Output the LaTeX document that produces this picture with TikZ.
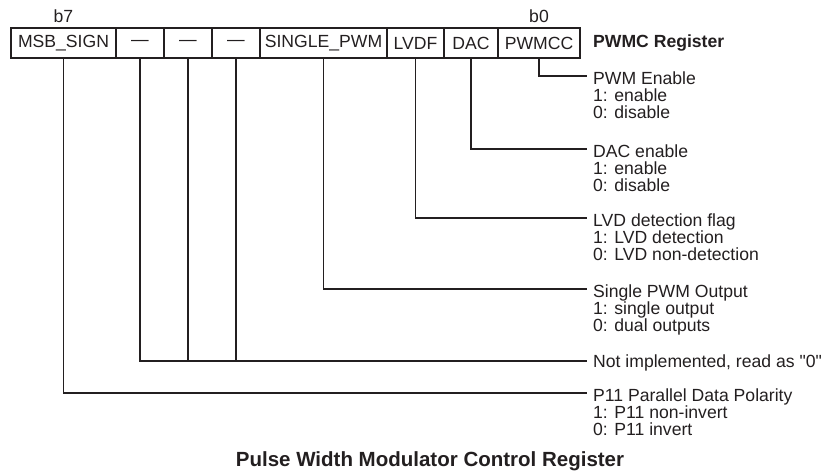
\documentclass[tikz,border=0pt]{standalone}
\usepackage{fontspec}
\setmainfont{Liberation Sans}
\usetikzlibrary{positioning}
\definecolor{regink}{HTML}{231F20}
\tikzset{
    reg_cell/.style={
        rectangle, draw=regink, line width=1.3pt, inner sep=0pt, outer sep=0pt,
        minimum height=30pt, text=regink, font=\fontsize{17.6}{17.2}\selectfont
    },
    bit_line/.style={
        draw=regink, line width=1.3pt
    },
    desc_text/.style={
        anchor=north west, inner sep=0pt, align=left, text=regink,
        font=\fontsize{17.6}{17.2}\selectfont
    },
    bit_lbl/.style={
        inner sep=0pt, text=regink, font=\fontsize{17.6}{17.2}\selectfont
    },
    head_text/.style={
        inner sep=0pt, text=regink, font=\fontsize{17.6}{17.2}\selectfont\bfseries
    }
}

\begin{document}
\begin{tikzpicture}[x=1pt, y=-1pt]
    \useasboundingbox (0,0) rectangle (822,474);

    % register cells
    \node[reg_cell, minimum width=105pt, anchor=west] (cMSB) at (11,43) {MSB\_SIGN};
    \node[reg_cell, minimum width=48pt, right=0pt of cMSB] (cNa) {—};
    \node[reg_cell, minimum width=48pt, right=0pt of cNa] (cNb) {—};
    \node[reg_cell, minimum width=48pt, right=0pt of cNb] (cNc) {—};
    \node[reg_cell, minimum width=127pt, right=0pt of cNc] (cSPWM) {SINGLE\_PWM};
    \node[reg_cell, minimum width=57pt, right=0pt of cSPWM] (cLVDF) {LVDF};
    \node[reg_cell, minimum width=54pt, right=0pt of cLVDF] (cDAC) {DAC};
    \node[reg_cell, minimum width=82pt, right=0pt of cDAC] (cPWMCC) {PWMCC};

    \node[bit_lbl, above=5pt of cMSB] (b7) {b7};
    \node[bit_lbl, above=5pt of cPWMCC] (b0) {b0};
    \node[head_text, right=13pt of cPWMCC] (regname) {PWMC Register};

    % line ends
    \coordinate (ePWMCC) at (587,76);
    \coordinate (eDAC) at (587,149);
    \coordinate (eLVDF) at (587,218);
    \coordinate (eSPWM) at (587,289);
    \coordinate (eNI) at (587,361);
    \coordinate (eMSB) at (587,393);

    \node[desc_text] (dPWMCC) at ([xshift=6pt, yshift=4.5pt]ePWMCC) {PWM Enable\\1: enable\\0: disable};
    \node[desc_text] (dDAC) at ([xshift=6pt, yshift=4.5pt]eDAC) {DAC enable\\1: enable\\0: disable};
    \node[desc_text] (dLVDF) at ([xshift=6pt, yshift=4.5pt]eLVDF) {LVD detection flag\\1: LVD detection\\0: LVD non-detection};
    \node[desc_text] (dSPWM) at ([xshift=6pt, yshift=4.5pt]eSPWM) {Single PWM Output\\1: single output\\0: dual outputs};
    \node[desc_text] (dNI) at ([xshift=6pt, yshift=6pt]eNI) {Not implemented, read as \textquotedbl 0\textquotedbl};
    \node[desc_text] (dMSB) at ([xshift=6pt, yshift=4.5pt]eMSB) {P11 Parallel Data Polarity\\1: P11 non-invert\\0: P11 invert};

    \draw[bit_line] (cPWMCC.south) |- (ePWMCC);
    \draw[bit_line] (cDAC.south) |- (eDAC);
    \draw[bit_line] (cLVDF.south) |- (eLVDF);
    \draw[bit_line] (cSPWM.south) |- (eSPWM);
    \draw[bit_line] (cNa.south) |- (eNI);
    \draw[bit_line] (cNb.south) -- (cNb.south |- eNI);
    \draw[bit_line] (cNc.south) -- (cNc.south |- eNI);
    \draw[bit_line] (cMSB.south) |- (eMSB);

    \node[head_text, font=\fontsize{20.5}{22}\selectfont\bfseries] (title) at (430,461) {Pulse Width Modulator Control Register};
\end{tikzpicture}
\end{document}
